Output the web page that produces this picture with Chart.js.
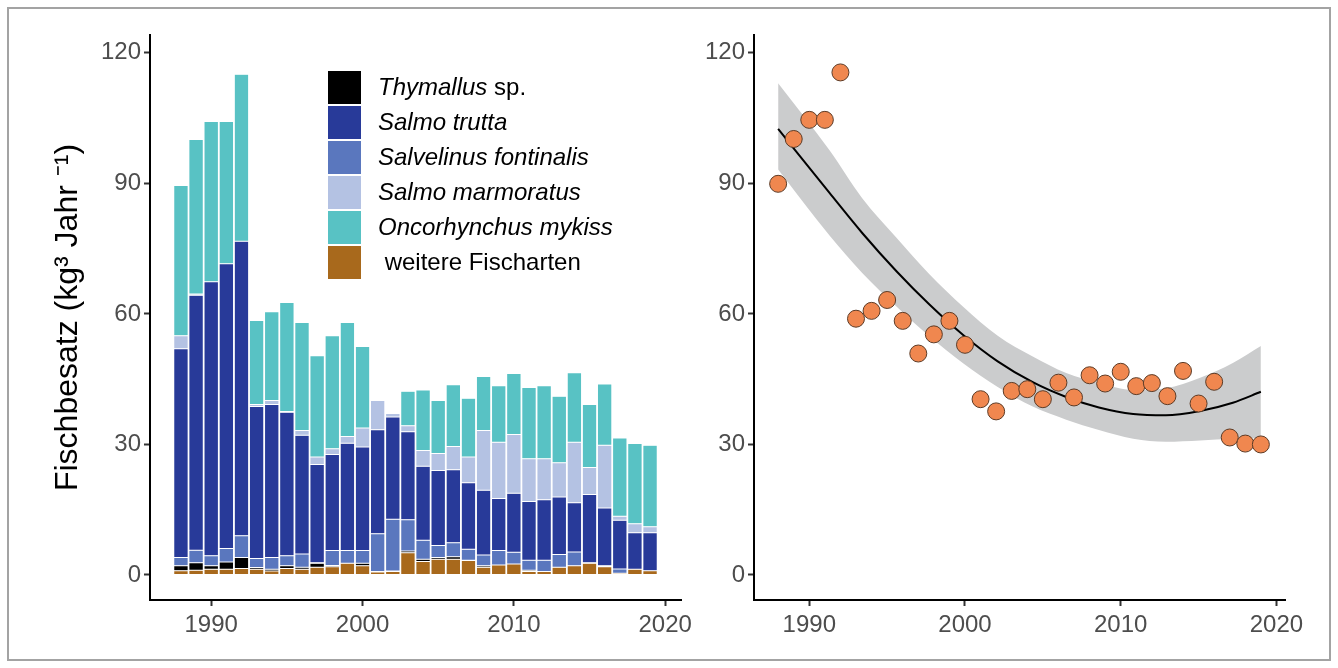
<!DOCTYPE html>
<html>
<head>
<meta charset="utf-8">
<script src="https://cdn.jsdelivr.net/npm/chart.js@4.4.0/dist/chart.umd.min.js"></script>
<style>
  body { margin: 0; background: #fff; }
  #wrap { position: relative; width: 1338px; height: 668px; overflow: hidden; }
  #frame { position: absolute; left: 7px; top: 7px; width: 1320px; height: 650px; border: 2px solid #a3a3a3; }
  #barChart { position: absolute; left: 0; top: 0; }
  #dotChart { position: absolute; left: 690px; top: 0; }
</style>
</head>
<body>
<div id="wrap">
  <div id="frame"></div>
  <canvas id="barChart" width="700" height="668"></canvas>
  <canvas id="dotChart" width="648" height="668"></canvas>
</div>
<script>
// years of stocking
const years = [1988, 1989, 1990, 1991, 1992, 1993, 1994, 1995, 1996, 1997, 1998, 1999, 2000, 2001, 2002, 2003,
               2004, 2005, 2006, 2007, 2008, 2009, 2010, 2011, 2012, 2013, 2014, 2015, 2016, 2017, 2018, 2019];

// stacked parts (kg per year), bottom to top
const weitere    = [1.0, 1.1, 1.3, 1.3, 1.5, 1.3, 0.9, 1.5, 1.3, 1.8, 1.9, 2.7, 2.1, 0.7, 0.8, 5.1,
                    3.1, 3.6, 3.6, 3.3, 1.8, 2.3, 2.5, 0.8, 0.8, 1.8, 2.1, 2.7, 1.9, 0.4, 1.3, 1.0];
const thymallus  = [1.1, 1.7, 0.8, 1.7, 2.5, 0.4, 0.4, 0.6, 0.5, 0.9, 0.3, 0.0, 0.6, 0.1, 0.1, 0.4,
                    0.5, 0.4, 0.6, 0.1, 0.3, 0.0, 0.0, 0.3, 0.0, 0.0, 0.0, 0.0, 0.0, 0.0, 0.0, 0.0];
const fontinalis = [1.9, 2.9, 2.3, 3.1, 5.0, 2.1, 2.7, 2.3, 3.0, 0.1, 3.4, 2.9, 2.9, 8.7, 11.9, 7.2,
                    4.4, 2.8, 3.2, 2.5, 2.5, 3.3, 2.7, 2.3, 2.6, 2.9, 3.2, 0.1, 0.2, 1.0, 0.0, 0.0];
const trutta     = [48.0, 58.6, 63.0, 65.4, 67.7, 34.9, 35.2, 33.0, 27.3, 22.6, 22.1, 24.7, 23.8, 23.9, 23.5, 20.2,
                    17.0, 17.2, 16.8, 15.3, 14.9, 12.0, 13.6, 13.5, 13.9, 13.2, 11.3, 15.7, 13.3, 11.2, 8.4, 8.7];
const marmoratus = [3.0, 0.3, 0.0, 0.0, 0.0, 0.5, 0.9, 0.2, 1.1, 1.7, 1.3, 1.5, 4.4, 6.7, 0.8, 1.4,
                    3.6, 3.9, 5.3, 5.9, 13.7, 12.9, 13.5, 9.8, 9.4, 7.9, 13.9, 6.2, 14.4, 0.9, 2.1, 1.4];
const mykiss     = [34.5, 35.5, 36.8, 32.7, 38.4, 19.3, 20.4, 25.0, 24.8, 23.3, 26.0, 26.2, 18.7, 0.0, 0.0, 7.9,
                    13.9, 12.2, 14.2, 13.5, 12.4, 13.0, 14.0, 16.4, 16.8, 15.3, 16.0, 14.5, 14.1, 18.0, 18.4, 18.7];

// yearly totals (right panel points)
const totals = [89.9, 100.2, 104.6, 104.6, 115.5, 58.9, 60.7, 63.2, 58.4, 50.9, 55.3, 58.4, 52.9, 40.4, 37.6, 42.3,
                42.7, 40.4, 44.2, 40.8, 45.9, 44.0, 46.7, 43.4, 44.1, 41.1, 46.9, 39.4, 44.4, 31.6, 30.2, 30.0];

// fitted trend with confidence band
const fitYears = [1988, 1991.3, 1993.4, 1995.6, 1997.7, 1999.9, 2002.1, 2004.35, 2006.5, 2008.6, 2010.8, 2012.9, 2015.1, 2017.2, 2019];
const fitLine  = [102.5, 87.8, 78.6, 69.8, 62.2, 55.1, 49.1, 44.3, 40.9, 38.5, 37.0, 36.7, 37.7, 39.6, 42.1];
const bandHigh = [113.0, 97.6, 86.6, 77.5, 69.2, 61.6, 55.0, 50.2, 46.4, 44.1, 42.5, 42.9, 45.3, 48.7, 52.6];
const bandLow  = [93.2, 78.0, 69.4, 61.7, 54.9, 48.6, 43.2, 38.7, 35.7, 33.3, 31.3, 30.6, 30.9, 31.3, 31.5];

const yTicks = [0, 30, 60, 90, 120];
const xTicks = [1990, 2000, 2010, 2020];

const FONT = "'Liberation Sans', Arial, sans-serif";
const tickFont = { family: FONT, size: 24 };

function pts(xs, ys) {
    return xs.map((x, i) => ({ x: x, y: ys[i] }));
}

function xAxis(min, max) {
    return {
        type: 'linear',
        min: min,
        max: max,
        offset: false,
        afterBuildTicks: s => { s.ticks = xTicks.map(v => ({ value: v })); },
        afterFit: s => { s.height = 68; },
        grid: { display: true, offset: false, drawOnChartArea: false, drawTicks: true, tickLength: 6, tickWidth: 2, tickColor: '#333' },
        border: { display: true, color: '#000', width: 2 },
        ticks: { color: '#4d4d4d', font: tickFont, padding: 5, maxRotation: 0, autoSkip: false, callback: v => String(v) }
    };
}

function yAxis(width) {
    return {
        type: 'linear',
        min: -5.75,
        max: 124.1,
        afterBuildTicks: s => { s.ticks = yTicks.map(v => ({ value: v })); },
        afterFit: s => { s.width = width; },
        grid: { display: true, drawOnChartArea: false, drawTicks: true, tickLength: 6, tickWidth: 2, tickColor: '#333' },
        border: { display: true, color: '#000', width: 2 },
        ticks: { color: '#4d4d4d', font: tickFont, padding: 3, callback: v => String(v) }
    };
}

// legend drawn inside the bar panel, mixed italic / upright text
const legendItems = [
    { color: '#000000', parts: [['Thymallus', true], [' sp.', false]] },
    { color: '#283a99', parts: [['Salmo trutta', true]] },
    { color: '#5a77be', parts: [['Salvelinus fontinalis', true]] },
    { color: '#b4c2e3', parts: [['Salmo marmoratus', true]] },
    { color: '#58c2c4', parts: [['Oncorhynchus mykiss', true]] },
    { color: '#a8691c', parts: [[' weitere Fischarten', false]] }
];

const speciesLegend = {
    id: 'speciesLegend',
    afterDraw(chart) {
        const ctx = chart.ctx;
        ctx.save();
        ctx.textBaseline = 'middle';
        legendItems.forEach((item, i) => {
            const top = 71 + i * 35;
            ctx.fillStyle = item.color;
            ctx.fillRect(328, top, 33, 33);
            let x = 378;
            item.parts.forEach(([txt, ital]) => {
                ctx.font = (ital ? 'italic ' : '') + '24px ' + FONT;
                ctx.fillStyle = '#000';
                ctx.fillText(txt, x, top + 17);
                x += ctx.measureText(txt).width;
            });
        });
        ctx.restore();
    }
};

function barSet(label, values, color) {
    return {
        label: label,
        data: pts(years, values),
        backgroundColor: color,
        borderColor: '#ffffff',
        borderWidth: 0.5,
        borderSkipped: false,
        barPercentage: 0.95,
        categoryPercentage: 1.0
    };
}

const yAx = yAxis(150);
yAx.stacked = true;
yAx.title = {
    display: true,
    text: 'Fischbesatz (kg³ Jahr ⁻¹)',
    color: '#000',
    font: { family: FONT, size: 32 },
    padding: { top: 49, bottom: 0 }
};
const xAx = xAxis(1985.955, 2021.045);
xAx.stacked = true;

new Chart(document.getElementById('barChart'), {
    type: 'bar',
    data: {
        datasets: [
            barSet('weitere Fischarten', weitere, '#a8691c'),
            barSet('Thymallus sp.', thymallus, '#000000'),
            barSet('Salvelinus fontinalis', fontinalis, '#5a77be'),
            barSet('Salmo trutta', trutta, '#283a99'),
            barSet('Salmo marmoratus', marmoratus, '#b4c2e3'),
            barSet('Oncorhynchus mykiss', mykiss, '#58c2c4')
        ]
    },
    options: {
        responsive: false,
        animation: false,
        layout: { padding: { top: 35, right: 19, bottom: 0, left: 0 } },
        plugins: { legend: { display: false }, tooltip: { enabled: false } },
        scales: { x: xAx, y: yAx }
    },
    plugins: [speciesLegend]
});

new Chart(document.getElementById('dotChart'), {
    type: 'scatter',
    data: {
        datasets: [
            {
                label: 'Gesamt',
                data: pts(years, totals),
                pointRadius: 8.5,
                pointBackgroundColor: '#f0874f',
                pointBorderColor: '#5c3b26',
                pointBorderWidth: 1
            },
            {
                type: 'line',
                label: 'Trend',
                data: pts(fitYears, fitLine),
                borderColor: '#000',
                borderWidth: 2,
                pointRadius: 0,
                cubicInterpolationMode: 'monotone',
                fill: false
            },
            {
                type: 'line',
                label: 'oben',
                data: pts(fitYears, bandHigh),
                borderColor: 'rgba(0,0,0,0)',
                borderWidth: 0,
                pointRadius: 0,
                cubicInterpolationMode: 'monotone',
                backgroundColor: '#cbcccd',
                fill: '+1'
            },
            {
                type: 'line',
                label: 'unten',
                data: pts(fitYears, bandLow),
                borderColor: 'rgba(0,0,0,0)',
                borderWidth: 0,
                pointRadius: 0,
                cubicInterpolationMode: 'monotone',
                fill: false
            }
        ]
    },
    options: {
        responsive: false,
        animation: false,
        layout: { padding: { top: 35, right: 53, bottom: 0, left: 0 } },
        plugins: { legend: { display: false }, tooltip: { enabled: false } },
        scales: { x: xAxis(1986.45, 2020.55), y: yAxis(64) }
    }
});
</script>
</body>
</html>
